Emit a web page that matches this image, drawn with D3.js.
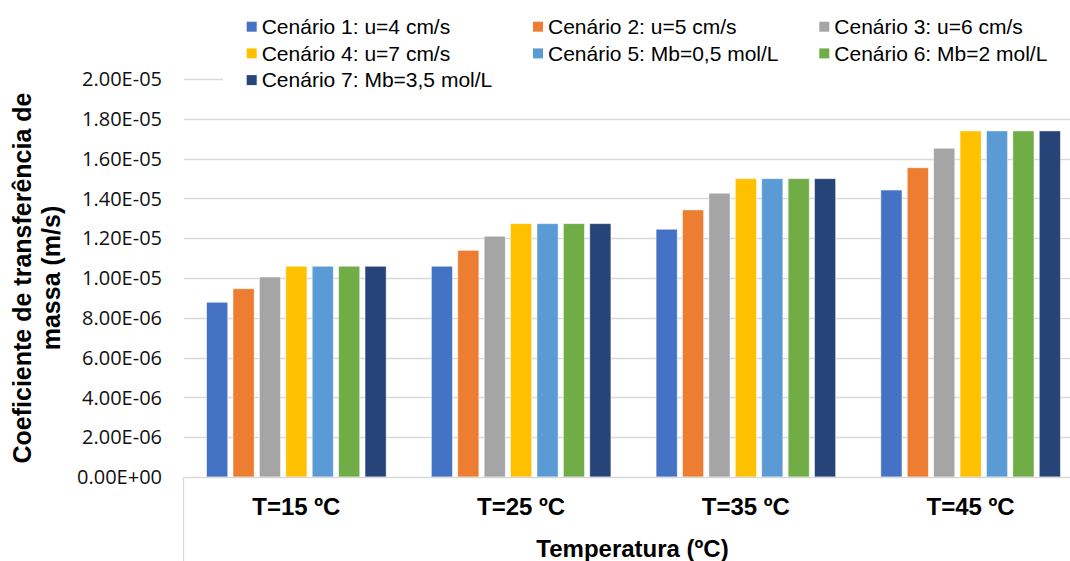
<!DOCTYPE html>
<html>
<head>
<meta charset="utf-8">
<script src="https://cdn.jsdelivr.net/npm/d3@7"></script>
<style>
  html, body { margin: 0; padding: 0; background: #fff; }
  svg { display: block; }
</style>
</head>
<body>
<svg id="chart" width="1070" height="561"></svg>
<script>
// Temperature groups on the category axis
const categories = ["T=15 ºC", "T=25 ºC", "T=35 ºC", "T=45 ºC"];

// Scenario names (legend order)
const scenarios = [
  "Cenário 1: u=4 cm/s",
  "Cenário 2: u=5 cm/s",
  "Cenário 3: u=6 cm/s",
  "Cenário 4: u=7 cm/s",
  "Cenário 5: Mb=0,5 mol/L",
  "Cenário 6: Mb=2 mol/L",
  "Cenário 7: Mb=3,5 mol/L"
];

// Mass transfer coefficient (m/s), one array per scenario, one value per temperature
const cenario1 = [8.78e-6, 10.59e-6, 12.45e-6, 14.42e-6];
const cenario2 = [9.46e-6, 11.39e-6, 13.42e-6, 15.54e-6];
const cenario3 = [10.05e-6, 12.10e-6, 14.26e-6, 16.52e-6];
const cenario4 = [10.59e-6, 12.73e-6, 14.99e-6, 17.39e-6];
const cenario5 = [10.59e-6, 12.73e-6, 14.99e-6, 17.39e-6];
const cenario6 = [10.59e-6, 12.73e-6, 14.99e-6, 17.39e-6];
const cenario7 = [10.59e-6, 12.73e-6, 14.99e-6, 17.39e-6];

const seriesValues = [cenario1, cenario2, cenario3, cenario4, cenario5, cenario6, cenario7];

// Value axis ticks
const yTicks = [0, 2e-6, 4e-6, 6e-6, 8e-6, 10e-6, 12e-6, 14e-6, 16e-6, 18e-6, 20e-6];
const yMax = 2e-5;

const colors = ["#4472C4", "#ED7D31", "#A5A5A5", "#FFC000", "#5B9BD5", "#70AD47", "#264478"];

const svg = d3.select("#chart");
const W = 1070, H = 561;

// Plot area
const plot = { left: 184, right: 1083, top: 79, bottom: 477 };

const y = d3.scaleLinear().domain([0, yMax]).range([plot.bottom, plot.top]);
const x0 = d3.scaleBand().domain(categories).range([plot.left, plot.right]).paddingInner(0).paddingOuter(0);
const groupInset = 22.6;
const x1 = d3.scaleBand().domain(d3.range(scenarios.length))
  .range([groupInset, x0.bandwidth() - groupInset]).paddingInner(0.2).paddingOuter(0);

// Gridlines
svg.append("g").selectAll("line").data(yTicks.filter(d => d > 0)).join("line")
  .attr("x1", plot.left).attr("x2", W)
  .attr("y1", d => Math.round(y(d)) + 0.5).attr("y2", d => Math.round(y(d)) + 0.5)
  .attr("stroke", "#D9D9D9").attr("stroke-width", 1.3);

// Value axis labels
const fmt = v => {
  const s = v.toExponential(2).toUpperCase();
  const m = s.match(/^(.*)E([+-])(\d+)$/);
  return m[1] + "E" + m[2] + m[3].padStart(2, "0");
};
svg.append("g").selectAll("text").data(yTicks).join("text")
  .attr("x", 162).attr("y", d => y(d)).attr("dy", "0.36em")
  .attr("text-anchor", "end")
  .attr("font-family", "'Open Sans', sans-serif").attr("font-size", 20)
  .attr("fill", "#111")
  .text(fmt);

// Bars
const groups = svg.append("g").selectAll("g").data(categories).join("g")
  .attr("transform", c => `translate(${x0(c)},0)`);
groups.selectAll("rect")
  .data((c, ci) => seriesValues.map((vals, si) => ({ si, v: vals[ci] })))
  .join("rect")
  .attr("x", d => x1(d.si))
  .attr("width", x1.bandwidth())
  .attr("y", d => y(d.v))
  .attr("height", d => y(0) - y(d.v))
  .attr("fill", d => colors[d.si])
  .attr("stroke", "#fff").attr("stroke-opacity", 0.6).attr("stroke-width", 0.8);

// Category axis frame
svg.append("line").attr("x1", plot.left).attr("x2", W)
  .attr("y1", plot.bottom + 0.5).attr("y2", plot.bottom + 0.5)
  .attr("stroke", "#D9D9D9").attr("stroke-width", 1.3);
svg.append("line").attr("x1", plot.left - 0.5).attr("x2", plot.left - 0.5)
  .attr("y1", plot.bottom).attr("y2", H)
  .attr("stroke", "#D9D9D9").attr("stroke-width", 1.3);

// Category labels
svg.append("g").selectAll("text").data(categories).join("text")
  .attr("x", c => x0(c) + x0.bandwidth() / 2).attr("y", 515)
  .attr("text-anchor", "middle")
  .attr("font-family", "'Liberation Sans', Arial, sans-serif").attr("font-weight", "bold")
  .attr("font-size", 24).attr("fill", "#000")
  .text(c => c);

// Axis titles
svg.append("text")
  .attr("x", (plot.left + 1083) / 2 - 1).attr("y", 557)
  .attr("text-anchor", "middle")
  .attr("font-family", "'Liberation Sans', Arial, sans-serif").attr("font-weight", "bold")
  .attr("font-size", 24).attr("fill", "#000")
  .text("Temperatura (ºC)");

const yTitle = svg.append("text")
  .attr("transform", `translate(0, ${(plot.top + plot.bottom) / 2}) rotate(-90)`)
  .attr("text-anchor", "middle")
  .attr("font-family", "'Liberation Sans', Arial, sans-serif").attr("font-weight", "bold")
  .attr("font-size", 25).attr("fill", "#000");
yTitle.append("tspan").attr("x", 0).attr("y", 31).text("Coeficiente de transferência de");
yTitle.append("tspan").attr("x", 0).attr("y", 60).text("massa (m/s)");

// Legend (white panel over the top gridline)
svg.append("rect").attr("x", 223).attr("y", 4).attr("width", W - 223).attr("height", 90).attr("fill", "#fff");
const legendCols = 3;
const legend = svg.append("g").selectAll("g").data(scenarios).join("g")
  .attr("transform", (d, i) => `translate(${246.7 + (i % legendCols) * 286.3}, ${26.7 + Math.floor(i / legendCols) * 26.7})`);
legend.append("rect").attr("x", 0).attr("y", -5).attr("width", 10).attr("height", 10)
  .attr("fill", (d, i) => colors[i]);
legend.append("text").attr("x", 15).attr("y", 0).attr("dy", "0.35em")
  .attr("font-family", "'Liberation Sans', Arial, sans-serif").attr("font-size", 21)
  .attr("fill", "#000")
  .text(d => d);
</script>
</body>
</html>
